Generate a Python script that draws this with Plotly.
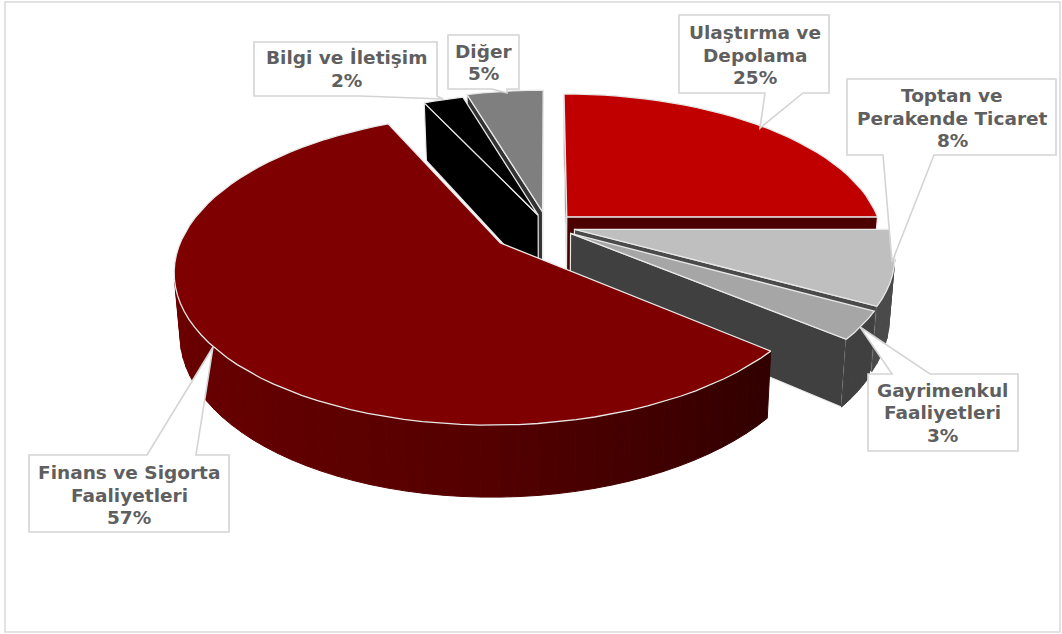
import numpy as np
import plotly.graph_objects as go

categories = ["Ulaştırma ve Depolama", "Toptan ve Perakende Ticaret", "Gayrimenkul Faaliyetleri",
              "Finans ve Sigorta Faaliyetleri", "Bilgi ve İletişim", "Diğer"]
values = [25, 8, 3, 57, 2.4, 4.6]
label_lines = [["Ulaştırma ve", "Depolama"], ["Toptan ve", "Perakende Ticaret"], ["Gayrimenkul", "Faaliyetleri"],
               ["Finans ve Sigorta", "Faaliyetleri"], ["Bilgi ve İletişim"], ["Diğer"]]
top_colors = ["#c00000", "#bfbfbf", "#a6a6a6", "#7f0000", "#000000", "#7f7f7f"]
side_colors = ["#4d0000", "#4a4a4a", "#404040", "#5a0000", "#000000", "#333333"]
explode = [0.09, 0.09, 0.09, 0.185, 0.08, 0.10]
depth = [1, 1, 1, 0.98, 1.12, 1]
draw_order = [5, 4, 0, 1, 2, 3]

# projection of the tilted pie
CX, CY, A, B, K, H = 547, 226, 314, 146, 0.165, 60
def project(X, Y, Z=0.0):
    s = 1 / (1 + K * Y)
    return CX + A * X * s * (1 - 0.016 * Z), CY - B * Y * s + H * Z * s

fig = go.Figure()
def poly(pts, fill, line=None, width=0):
    xs = [p[0] for p in pts] + [pts[0][0]]
    ys = [p[1] for p in pts] + [pts[0][1]]
    fig.add_trace(go.Scatter(x=xs, y=ys, mode="lines", fill="toself", fillcolor=fill,
                             line=dict(color=line or fill, width=width if line else 1),
                             hoverinfo="skip", showlegend=False))

def area(q):
    return sum(q[i][0] * q[(i + 1) % len(q)][1] - q[(i + 1) % len(q)][0] * q[i][1] for i in range(len(q)))

def finance_shade(t):
    v = np.interp(np.sin(t), [-1, 0, 0.8], [108, 84, 48])
    return f"rgb({int(v)},0,0)"

fractions = np.cumsum([0] + values) / sum(values)
EDGE = "#e8e8e8"
for i in draw_order:
    t0, t1 = 2 * np.pi * fractions[i], 2 * np.pi * fractions[i + 1]
    mid = (t0 + t1) / 2
    ox, oy = explode[i] * np.sin(mid), explode[i] * np.cos(mid)
    n = max(4, int((t1 - t0) / 0.05))
    ts = np.linspace(t0, t1, n + 1)
    d = depth[i]
    P = lambda t, z=0.0: project(ox + np.sin(t), oy + np.cos(t), z)
    tipT, tipB = project(ox, oy), project(ox, oy, d)
    faces = []
    faces.append(((oy + np.cos(t0)/2), [tipT, P(t0), P(t0, d), tipB], side_colors[i], EDGE))
    faces.append(((oy + np.cos(t1)/2), [P(t1), tipT, tipB, P(t1, d)], side_colors[i], EDGE))
    for a, b in zip(ts[:-1], ts[1:]):
        col = finance_shade((a + b) / 2) if i == 3 else side_colors[i]
        faces.append((oy + np.cos((a + b) / 2), [P(a), P(b), P(b, d), P(a, d)], col, None))
    for _, q, col, ln in sorted(faces, key=lambda f: -f[0]):
        if area(q) < 0:
            poly(q, col, ln, 1.2 if ln else 0)
    poly([tipT] + [P(t) for t in ts], top_colors[i], EDGE, 1.3)

# callouts: box (l, t, r, b), wedge points on the box edge, tip
callouts = [
    ((679, 15, 829, 93), [(803, 93), (760, 128), (765, 93)], (754.5, 21)),
    ((847, 79, 1056, 155), [(934, 155), (892, 262), (883, 155)], (952, 84)),
    ((868, 374, 1018, 451), [(892, 374), (860, 327), (930, 374)], (942.5, 378.5)),
    ((29, 455, 229, 532), [(147, 455), (213, 347), (196, 455)], (129, 461)),
    ((254, 42, 437, 96), [(437, 96), (443, 99), (360, 96)], (346, 46)),
    ((448, 35, 519, 89), [(507, 89), (507, 93), (492, 89)], (483.5, 39.5)),
]
shapes = [dict(type="rect", xref="paper", yref="paper", x0=5/1062, x1=1060/1062, y0=1-632/634, y1=1-2/634,
               line=dict(color="#d9d9d9", width=1.5), layer="below")]
annotations = []
for (box, wedge, txt), lines, v in zip(callouts, label_lines, values):
    l, t, r, b = box
    w = wedge
    if w[0][1] == t:   # wedge on the top edge
        path = f"M{l},{t} L{w[0][0]},{t} L{w[1][0]},{w[1][1]} L{w[2][0]},{t} L{r},{t} L{r},{b} L{l},{b} Z"
    else:              # wedge on the bottom edge
        path = f"M{l},{t} L{r},{t} L{r},{b} L{w[0][0]},{b} L{w[1][0]},{w[1][1]} L{w[2][0]},{b} L{l},{b} Z"
    shapes.append(dict(type="path", path=path, xref="x", yref="y", fillcolor="white",
                       line=dict(color="#d4d4d4", width=1.6), layer="above"))
    for j, s in enumerate(lines + [f"{round(v)}%"]):
        annotations.append(dict(x=txt[0], y=txt[1] + j * 22.7, xref="x", yref="y", text=s, showarrow=False,
                                xanchor="center", yanchor="top", borderpad=0,
                                font=dict(family="DejaVu Sans", size=18.5, color="#5f5f5f", weight="bold")))

fig.update_layout(width=1062, height=634, margin=dict(l=0, r=0, t=0, b=0), paper_bgcolor="white",
                  plot_bgcolor="white", showlegend=False, shapes=shapes, annotations=annotations,
                  xaxis=dict(range=[0, 1062], visible=False, fixedrange=True),
                  yaxis=dict(range=[634, 0], visible=False, fixedrange=True))
fig.write_html("out.html", config=dict(displayModeBar=False),
               post_script="document.body.style.margin='0';")
